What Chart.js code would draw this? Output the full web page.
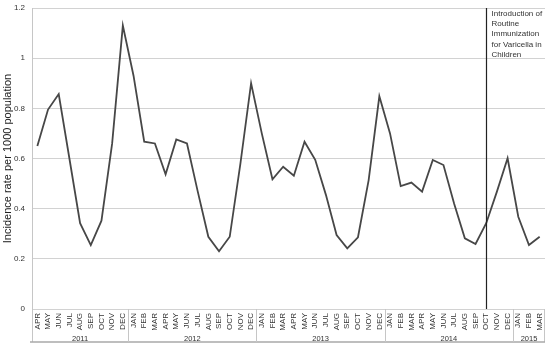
<!DOCTYPE html>
<html>
<head>
<meta charset="utf-8">
<script src="https://cdn.jsdelivr.net/npm/chart.js@4"></script>
<style>
  html, body { margin: 0; padding: 0; background: #fff; }
  #wrap { width: 549px; height: 349px; }
</style>
</head>
<body>
<div id="wrap"><canvas id="chart" width="549" height="349"></canvas></div>
<script>
// months shown on the axis, Apr 2011 - Mar 2015
var months = ['APR','MAY','JUN','JUL','AUG','SEP','OCT','NOV','DEC',
  'JAN','FEB','MAR','APR','MAY','JUN','JUL','AUG','SEP','OCT','NOV','DEC',
  'JAN','FEB','MAR','APR','MAY','JUN','JUL','AUG','SEP','OCT','NOV','DEC',
  'JAN','FEB','MAR','APR','MAY','JUN','JUL','AUG','SEP','OCT','NOV','DEC',
  'JAN','FEB','MAR'];

var years = ['2011','2012','2013','2014','2015'];
var monthsInYear = [9, 12, 12, 12, 3];

// incidence rate per 1000 population
var rates = [0.65, 0.795, 0.857, 0.60, 0.342, 0.255, 0.352, 0.66, 1.13,
  0.93, 0.667, 0.66, 0.537, 0.676, 0.66, 0.47, 0.288, 0.23, 0.288, 0.58, 0.90,
  0.70, 0.517, 0.567, 0.531, 0.667, 0.595, 0.455, 0.295, 0.242, 0.286, 0.514, 0.848,
  0.70, 0.49, 0.504, 0.468, 0.594, 0.574, 0.42, 0.282, 0.259, 0.342, 0.468, 0.601,
  0.368, 0.255, 0.288];

var yTicks = [0, 0.2, 0.4, 0.6, 0.8, 1, 1.2];

// vertical marker (OCT 2014) and its note
var markerIndex = 42;
var markerNote = ['Introduction of', 'Routine', 'Immunization', 'for Varicella in', 'Children'];

var FONT = "'Liberation Sans', Arial, sans-serif";

var groupsPlugin = {
  id: 'groups',
  afterDraw: function(chart) {
    var ctx = chart.ctx;
    var x = chart.scales.x;
    var area = chart.chartArea;
    var bottom = 342;
    ctx.save();
    ctx.strokeStyle = '#c6c6c6';
    ctx.lineWidth = 1;
    // left edge + right edge of the category box, bottom line
    ctx.beginPath();
    ctx.moveTo(area.left + 0.5, area.bottom);
    ctx.lineTo(area.left + 0.5, bottom);
    ctx.moveTo(area.right - 0.5, area.bottom);
    ctx.lineTo(area.right - 0.5, bottom);
    ctx.stroke();
    ctx.strokeStyle = '#a8a8a8';
    ctx.lineWidth = 1.5;
    ctx.beginPath();
    ctx.moveTo(area.left - 2, bottom);
    ctx.lineTo(area.right, bottom);
    ctx.stroke();

    // year separators + year labels
    var step = x.getPixelForValue(1) - x.getPixelForValue(0);
    var start = 0;
    ctx.fillStyle = '#333';
    ctx.font = '7.5px ' + FONT;
    ctx.textAlign = 'center';
    ctx.textBaseline = 'alphabetic';
    for (var i = 0; i < years.length; i++) {
      var end = start + monthsInYear[i];
      var x0 = x.getPixelForValue(start) - step / 2;
      var x1 = x.getPixelForValue(end - 1) + step / 2;
      if (i > 0) {
        ctx.strokeStyle = '#c6c6c6';
        ctx.lineWidth = 1;
        ctx.beginPath();
        ctx.moveTo(Math.round(x0) + 0.5, area.bottom);
        ctx.lineTo(Math.round(x0) + 0.5, bottom);
        ctx.stroke();
      }
      ctx.fillText(years[i], (x0 + x1) / 2, 341);
      start = end;
    }

    // marker line
    var mx = Math.round(x.getPixelForValue(markerIndex)) + 0.5;
    ctx.strokeStyle = '#222';
    ctx.lineWidth = 1.2;
    ctx.beginPath();
    ctx.moveTo(mx, area.top);
    ctx.lineTo(mx, area.bottom);
    ctx.stroke();

    ctx.fillStyle = '#333';
    ctx.font = '8px ' + FONT;
    ctx.textAlign = 'left';
    ctx.textBaseline = 'middle';
    for (var j = 0; j < markerNote.length; j++) {
      ctx.fillText(markerNote[j], mx + 5, 13.5 + j * 10.3);
    }
    ctx.restore();
  }
};

new Chart(document.getElementById('chart').getContext('2d'), {
  type: 'line',
  data: {
    labels: months,
    datasets: [{
      data: rates,
      borderColor: '#474747',
      borderWidth: 1.8,
      pointRadius: 0,
      tension: 0,
      fill: false
    }]
  },
  options: {
    responsive: false,
    animation: false,
    layout: { padding: { top: 8, right: 4, left: 0, bottom: 0 } },
    plugins: { legend: { display: false }, tooltip: { enabled: false } },
    scales: {
      x: {
        offset: true,
        grid: { display: false, drawTicks: false },
        border: { display: false },
        afterFit: function(s) { s.height = 40; s.paddingLeft = 0; s.paddingRight = 0; },
        ticks: {
          autoSkip: false,
          minRotation: 90,
          maxRotation: 90,
          padding: 4,
          color: '#333',
          font: { family: FONT, size: 8 }
        }
      },
      y: {
        min: 0,
        max: 1.2,
        afterFit: function(s) { s.width = 32; s.paddingTop = 0; s.paddingBottom = 0; },
        afterBuildTicks: function(s) { s.ticks = yTicks.map(function(v) { return { value: v }; }); },
        grid: { color: '#d2d2d2', lineWidth: 1, drawTicks: false },
        border: { display: true, color: '#c6c6c6' },
        ticks: {
          padding: 7,
          color: '#333',
          font: { family: FONT, size: 8 },
          callback: function(v) { return String(Math.round(v * 10) / 10); }
        },
        title: {
          display: true,
          text: 'Incidence rate per 1000 population',
          color: '#222',
          padding: { top: 1, bottom: 0 },
          font: { family: FONT, size: 11 }
        }
      }
    }
  },
  plugins: [groupsPlugin]
});
</script>
</body>
</html>
